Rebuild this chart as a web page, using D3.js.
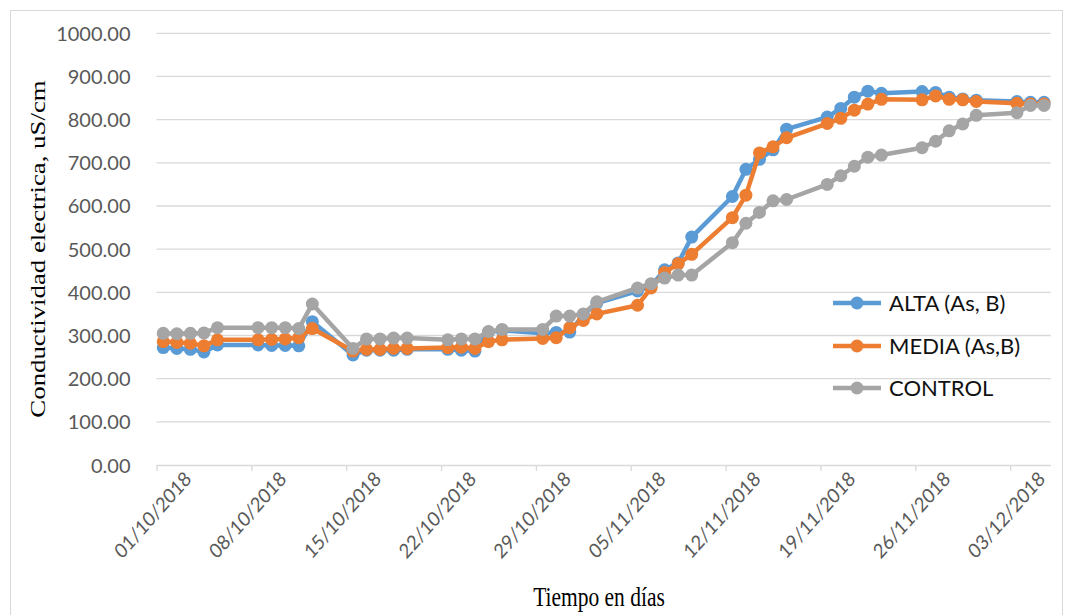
<!DOCTYPE html>
<html><head><meta charset="utf-8">
<script src="https://cdn.jsdelivr.net/npm/d3@7/dist/d3.min.js"></script>
<style>body{margin:0;background:#fff;}svg{display:block;}</style>
</head><body><svg id="c" width="1068" height="615"></svg>
<script>
const dates = ["2018-10-01","2018-10-02","2018-10-03","2018-10-04","2018-10-05",
"2018-10-08","2018-10-09","2018-10-10","2018-10-11","2018-10-12",
"2018-10-15","2018-10-16","2018-10-17","2018-10-18","2018-10-19",
"2018-10-22","2018-10-23","2018-10-24","2018-10-25","2018-10-26",
"2018-10-29","2018-10-30","2018-10-31","2018-11-01","2018-11-02",
"2018-11-05","2018-11-06","2018-11-07","2018-11-08","2018-11-09",
"2018-11-12","2018-11-13","2018-11-14","2018-11-15","2018-11-16",
"2018-11-19","2018-11-20","2018-11-21","2018-11-22","2018-11-23",
"2018-11-26","2018-11-27","2018-11-28","2018-11-29","2018-11-30",
"2018-12-03","2018-12-04","2018-12-05"];
const alta = [272,270,268,262,278, 278,277,277,276,332, 255,266,266,266,268, 268,266,264,308,312,
305,307,308,348,375, 403,415,452,468,528, 622,685,708,730,778, 806,826,852,866,861,
865,863,852,848,845, 842,840,840];
const media = [286,284,282,276,290, 290,291,292,295,316, 264,268,268,270,270, 272,273,270,286,290,
293,295,318,335,350, 370,410,446,466,488, 573,625,723,737,758, 791,803,822,836,847,
846,855,847,846,842, 838,836,836];
const control = [305,304,305,306,318, 318,318,318,316,373, 270,292,292,294,294, 290,292,292,309,314,
314,345,345,350,378, 410,420,433,440,440, 515,560,585,612,615, 650,670,692,713,718,
735,750,774,790,810, 816,833,833];
const seriesNames = ["ALTA (As, B)","MEDIA (As,B)","CONTROL"];
const colors = ["#5B9BD5","#ED7D31","#A5A5A5"];
const tickDates = ["2018-10-01","2018-10-08","2018-10-15","2018-10-22","2018-10-29","2018-11-05","2018-11-12","2018-11-19","2018-11-26","2018-12-03"];
const yTicks = [0,100,200,300,400,500,600,700,800,900,1000];
const axisStart = "2018-10-01", axisEnd = "2018-12-06";

const parse = d3.utcParse("%Y-%m-%d");
const fmt = d3.utcFormat("%d/%m/%Y");
const svg = d3.select("#c");
const L = 156.5, R = 1050.8, T = 33.3, B = 465;
const x = d3.scaleUtc().domain([parse(axisStart), parse(axisEnd)]).range([L, R]);
const y = d3.scaleLinear().domain([0,1000]).range([B, T]);
const halfDay = 12*3600*1000;
const px = d => x(new Date(parse(d).getTime() + halfDay));
const sans = "Lato, 'Open Sans', sans-serif";
const serif = "'Liberation Serif', 'Times New Roman', serif";

svg.append("rect").attr("x",10.5).attr("y",10.5).attr("width",1052).attr("height",620)
  .attr("fill","#fff").attr("stroke","#d9d9d9");

// gridlines
svg.append("g").selectAll("line").data(yTicks.slice(1)).join("line")
  .attr("x1",L).attr("x2",R).attr("y1",d=>y(d)).attr("y2",d=>y(d))
  .attr("stroke","#d9d9d9").attr("stroke-width",1.3);

// y axis labels
const ya = svg.append("g").attr("transform",`translate(${L-23},0)`)
  .call(d3.axisLeft(y).tickValues(yTicks).tickFormat(d3.format(".2f")).tickSize(0));
ya.select(".domain").remove();
ya.selectAll("text").attr("font-family",sans).attr("font-size",20)
  .attr("fill","#595959").attr("dy","0.35em");

// x axis
const xa = svg.append("g").attr("transform",`translate(0,${B})`)
  .call(d3.axisBottom(x).tickValues(tickDates.map(parse)).tickFormat(fmt).tickSize(6).tickSizeOuter(0));
xa.select(".domain").attr("stroke","#d9d9d9").attr("stroke-width",1.3).attr("d",`M${L},0.5H${R}`);
xa.selectAll(".tick line").attr("stroke","#d9d9d9").attr("stroke-width",1.3);
xa.selectAll("text").attr("font-family",sans).attr("font-size",18)
  .attr("fill","#595959").attr("text-anchor","end").attr("y",0)
  .attr("transform","translate(31,10) scale(1,1.13) rotate(-45)").attr("dy","0.35em").attr("dx","0");

const data = [alta, media, control];
const line = d3.line().x((v,i)=>px(dates[i])).y(v=>y(v));
data.forEach((vals,k)=>{
  const g = svg.append("g");
  g.append("path").attr("d", line(vals)).attr("fill","none").attr("stroke",colors[k])
    .attr("stroke-width",4.5).attr("stroke-linejoin","round");
  g.selectAll("circle").data(vals).join("circle")
    .attr("cx",(v,i)=>px(dates[i])).attr("cy",v=>y(v)).attr("r",6.5).attr("fill",colors[k]);
});

// legend
const lg = svg.append("g");
const ly = [303,346,388];
seriesNames.forEach((n,k)=>{
  lg.append("line").attr("x1",833).attr("x2",881).attr("y1",ly[k]).attr("y2",ly[k])
    .attr("stroke",colors[k]).attr("stroke-width",4.5);
  lg.append("circle").attr("cx",857).attr("cy",ly[k]).attr("r",6.5).attr("fill",colors[k]);
  lg.append("text").attr("x",889).attr("y",ly[k]).attr("dy","0.35em").text(n)
    .attr("font-family",sans).attr("font-size",22).attr("fill","#111");
});

// axis titles
svg.append("text").attr("transform","translate(599,606) scale(1,1.3)").attr("text-anchor","middle")
  .attr("font-family",serif).attr("font-size",21.5)
  .text("Tiempo en días");
svg.append("text").attr("transform","translate(45,249) scale(1,1.22) rotate(-90)").attr("text-anchor","middle")
  .attr("font-family",serif).attr("font-size",22)
  .text("Conductividad electrica, uS/cm");
</script></body></html>
